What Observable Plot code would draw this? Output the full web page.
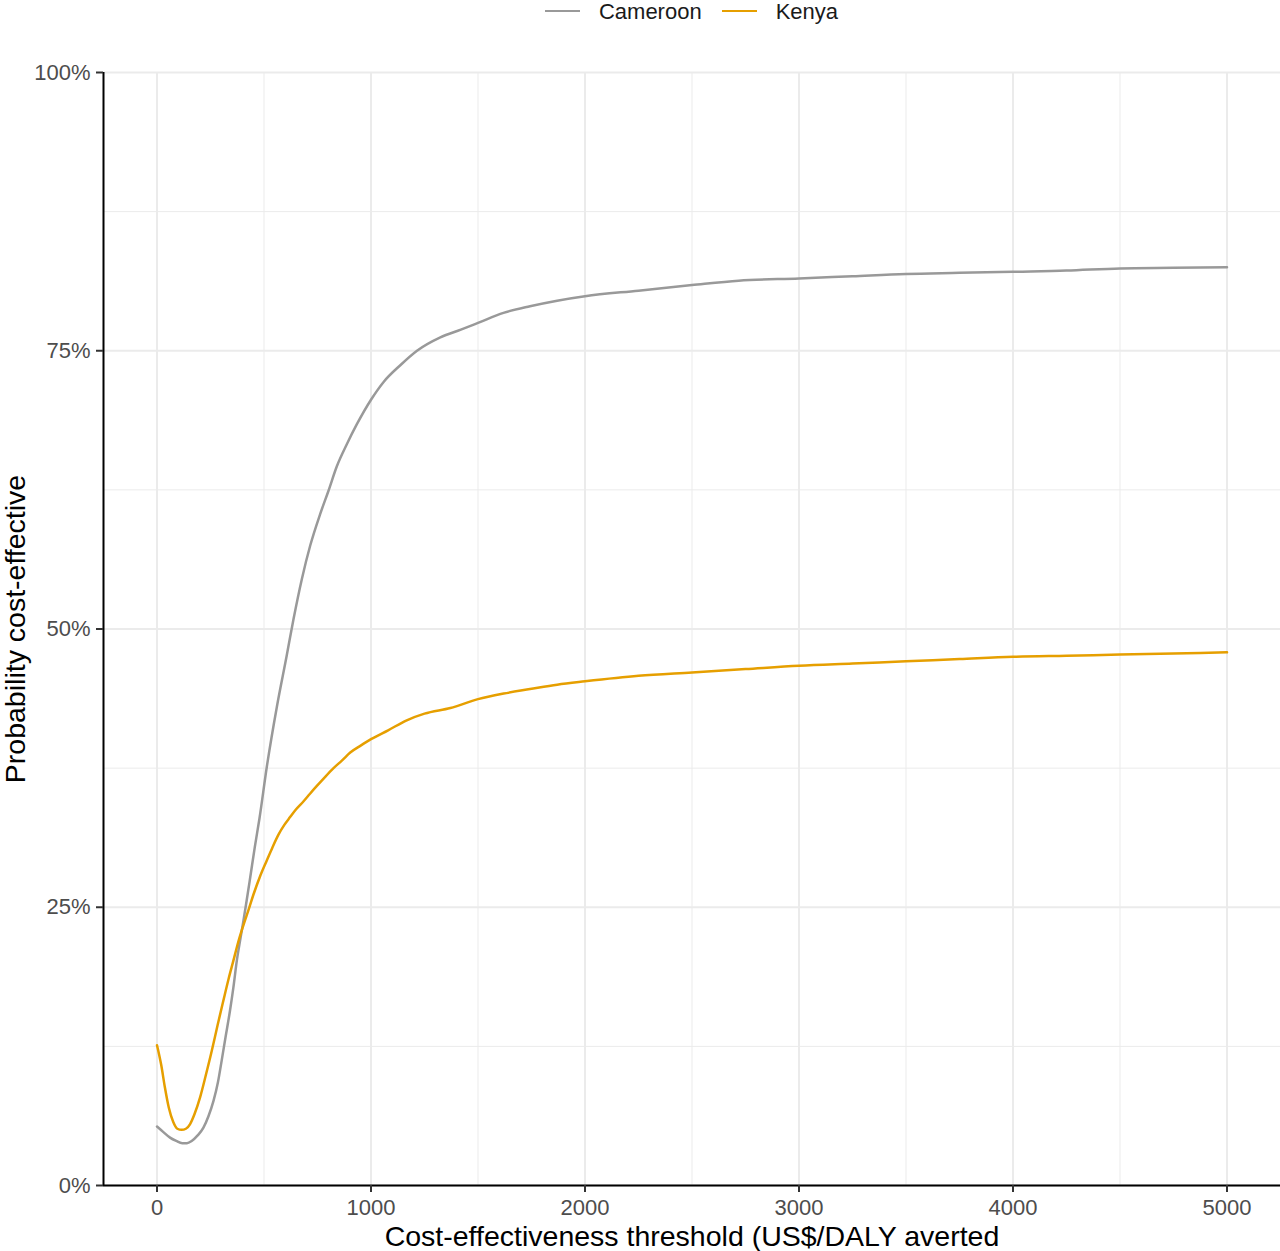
<!DOCTYPE html>
<html>
<head>
<meta charset="utf-8">
<script src="https://cdn.jsdelivr.net/npm/d3@7"></script>
<script src="https://cdn.jsdelivr.net/npm/@observablehq/plot@0.6"></script>
<style>
  html, body { margin: 0; padding: 0; background: #ffffff; }
  #wrap { position: relative; width: 1280px; height: 1251px; font-family: "Liberation Sans", Arial, sans-serif; }
  #legend { position: absolute; top: 0; left: 103px; width: 1177px; height: 24px; display: flex; justify-content: center; align-items: center; font-size: 22px; line-height: normal; color: #1a1a1a; }
  .item { display: flex; align-items: center; }
  .item + .item { margin-left: 20px; }
  .swatch { display: inline-block; width: 35px; height: 2.5px; margin-right: 19px; position: relative; top: -1px; }
</style>
</head>
<body>
<div id="wrap">
  <div id="legend"></div>
  <div id="chart"></div>
</div>
<script>
// ---- data ----
const countries = ["Cameroon", "Kenya"];
const colors = ["#999999", "#E69F00"];

const cameroonThreshold = [0,30,61,90,118,140,162,190,217,240,264,285,302,320,341,357,373,390,404,419,435,457,479,513,560,606,638,677,716,762,801,840,887,934,1000,1059,1137,1215,1324,1420,1500,1619,1743,1870,2000,2250,2500,2718,3000,3250,3500,3750,4000,4250,4500,4750,5000];
const cameroonProb = [5.3,4.8,4.3,4.0,3.8,3.8,4.0,4.5,5.2,6.2,7.6,9.3,11.2,13.3,15.7,17.8,20.2,22.2,23.8,25.6,27.6,30.4,33.0,37.6,43.0,47.6,50.9,54.5,57.5,60.3,62.4,64.6,66.6,68.4,70.6,72.2,73.7,75.0,76.2,76.9,77.5,78.4,79.0,79.5,79.9,80.4,80.9,81.3,81.5,81.7,81.9,82.0,82.1,82.2,82.4,82.45,82.5];

const kenyaThreshold = [0,20,37,55,76,95,115,135,154,175,201,228,256,283,310,335,357,380,404,430,450,480,513,540,567,595,622,650,684,715,747,785,825,865,903,950,1000,1080,1167,1250,1371,1500,1620,1743,1870,2000,2250,2500,2750,3000,3250,3500,3750,4000,4250,4500,4750,5000];
const kenyaProb = [12.6,10.8,8.8,7.0,5.7,5.1,5.0,5.1,5.5,6.4,7.9,9.9,12.1,14.4,16.6,18.6,20.2,21.9,23.4,24.9,26.1,27.7,29.2,30.4,31.5,32.4,33.1,33.8,34.5,35.2,35.9,36.7,37.5,38.2,38.9,39.5,40.1,40.9,41.8,42.4,42.9,43.7,44.2,44.6,45.0,45.3,45.8,46.1,46.4,46.7,46.9,47.1,47.3,47.5,47.6,47.7,47.8,47.9];

const xTicks = [0, 1000, 2000, 3000, 4000, 5000];
const xMinor = [500, 1500, 2500, 3500, 4500];
const yTicks = [0, 25, 50, 75, 100];
const yMinor = [12.5, 37.5, 62.5, 87.5];

const xTitle = "Cost-effectiveness threshold (US$/DALY averted";
const yTitle = "Probability cost-effective";

// ---- build table ----
const rows = [];
cameroonThreshold.forEach((t, i) => rows.push({country: "Cameroon", threshold: t, prob: cameroonProb[i]}));
kenyaThreshold.forEach((t, i) => rows.push({country: "Kenya", threshold: t, prob: kenyaProb[i]}));

// ---- legend ----
const legend = document.getElementById("legend");
countries.forEach((c, i) => {
  const item = document.createElement("div");
  item.className = "item";
  const sw = document.createElement("span");
  sw.className = "swatch";
  sw.style.background = colors[i];
  const lab = document.createElement("span");
  lab.textContent = c;
  item.appendChild(sw);
  item.appendChild(lab);
  legend.appendChild(item);
});

// ---- chart ----
const gridStyle = {stroke: "#ebebeb", strokeOpacity: 1};
const chart = Plot.plot({
  width: 1280,
  height: 1251,
  marginLeft: 103,
  marginRight: 0,
  marginTop: 72,
  marginBottom: 66,
  style: {fontFamily: "'Liberation Sans', Arial, sans-serif", fontSize: "22px", background: "transparent", overflow: "visible"},
  x: {domain: [-250, 5250], label: null},
  y: {domain: [0, 100], label: null},
  color: {domain: countries, range: colors},
  marks: [
    Plot.gridX(xMinor, {...gridStyle, strokeWidth: 1}),
    Plot.gridY(yMinor, {...gridStyle, strokeWidth: 1}),
    Plot.gridX(xTicks, {...gridStyle, strokeWidth: 2}),
    Plot.gridY(yTicks, {...gridStyle, strokeWidth: 2}),
    Plot.line(rows, {x: "threshold", y: "prob", z: "country", stroke: "country", strokeWidth: 2.5, curve: "monotone-x"}),
    Plot.ruleY([0], {stroke: "#000", strokeWidth: 2}),
    Plot.ruleX([-250], {stroke: "#000", strokeWidth: 2}),
    Plot.axisX(xTicks, {tickSize: 7, tickPadding: 7, stroke: "#333333", strokeWidth: 2, fill: "#4d4d4d", fontSize: 22, tickFormat: d => String(d), label: null}),
    Plot.axisY(yTicks, {tickSize: 7, tickPadding: 6, stroke: "#333333", strokeWidth: 2, fill: "#4d4d4d", fontSize: 22, tickFormat: d => d + "%", label: null}),
    Plot.text([xTitle], {text: d => d, frameAnchor: "bottom", textAnchor: "middle", dy: 60, lineAnchor: "bottom", fontSize: 28.5, fill: "#000"}),
    Plot.text([yTitle], {text: d => d, frameAnchor: "left", textAnchor: "middle", dx: -79, rotate: -90, lineAnchor: "bottom", fontSize: 28.5, fill: "#000"})
  ]
});
document.getElementById("chart").appendChild(chart);
</script>
</body>
</html>
